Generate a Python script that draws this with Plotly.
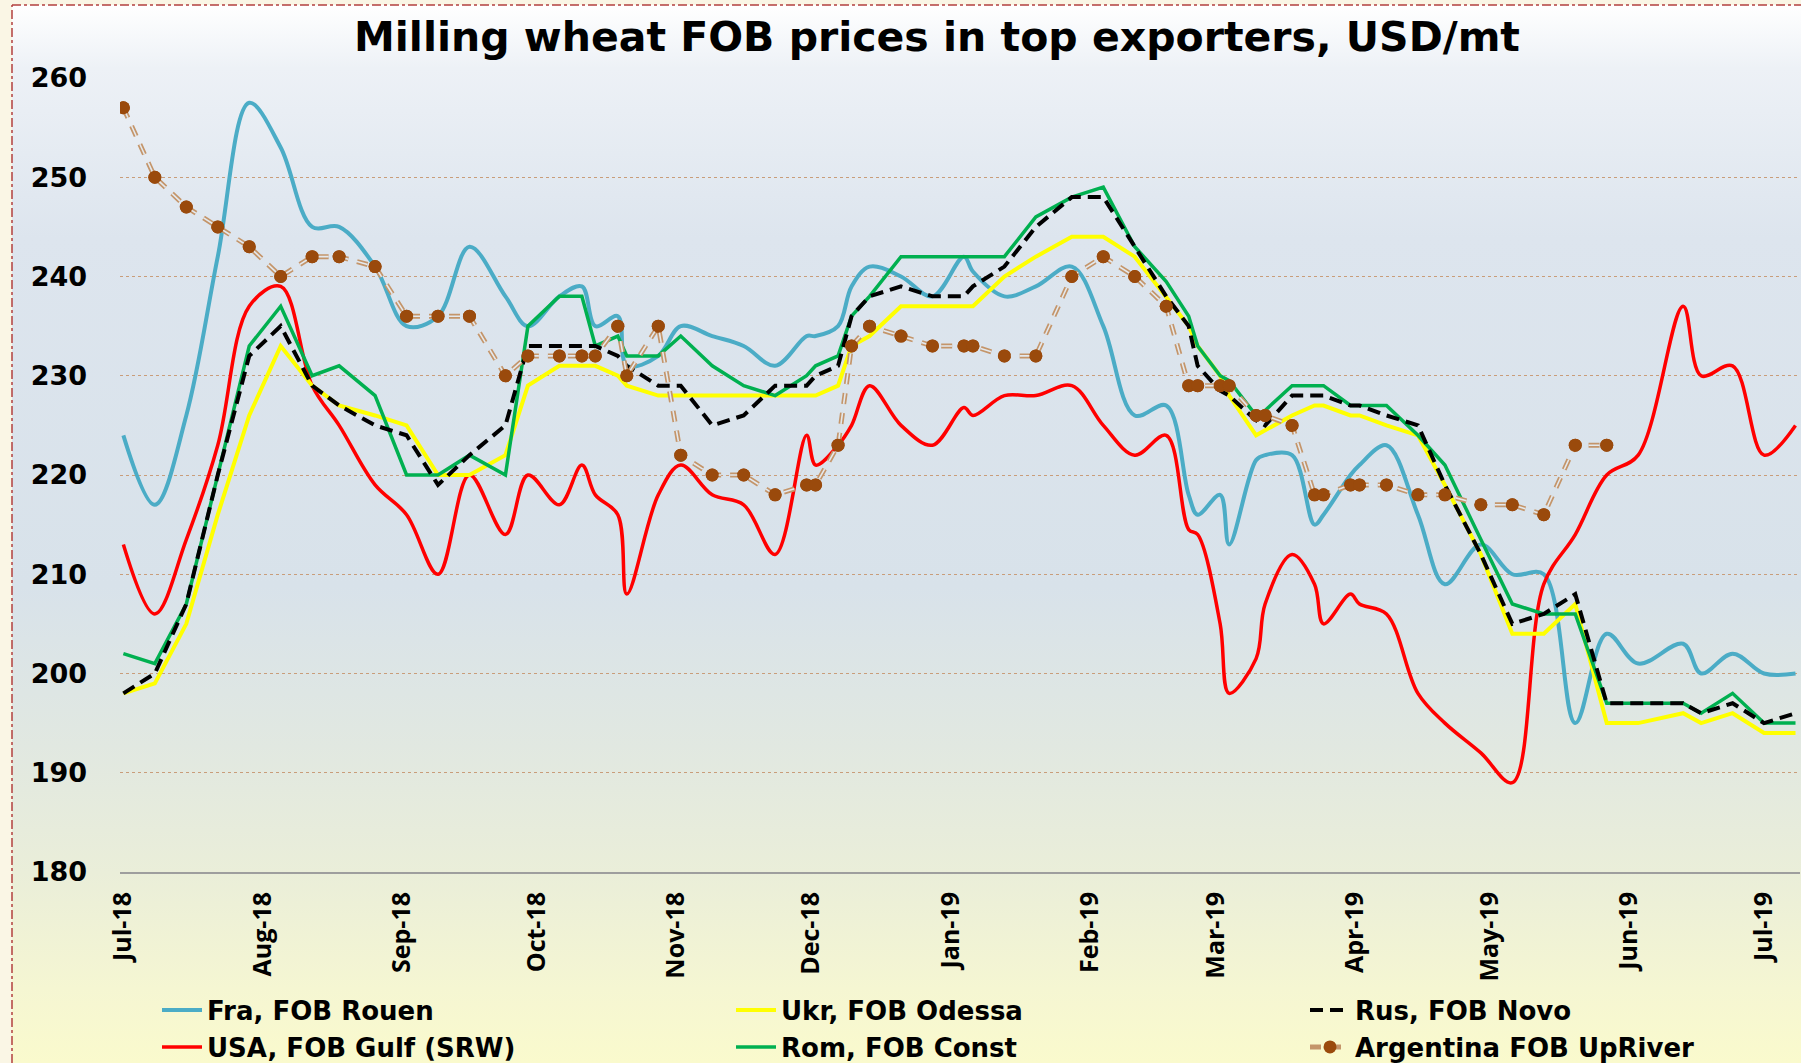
import base64
import plotly.graph_objects as go

# ---------------- data ----------------
dates = ['2018-07-01', '2018-07-08', '2018-07-15', '2018-07-22', '2018-07-29', '2018-08-05',
         '2018-08-12', '2018-08-18', '2018-08-26', '2018-09-02', '2018-09-09', '2018-09-16',
         '2018-09-24', '2018-09-29', '2018-10-06', '2018-10-11', '2018-10-14', '2018-10-19',
         '2018-10-21', '2018-10-28', '2018-11-02', '2018-11-09', '2018-11-16', '2018-11-23',
         '2018-11-30', '2018-12-02', '2018-12-07', '2018-12-10', '2018-12-14', '2018-12-21',
         '2018-12-28', '2019-01-04', '2019-01-06', '2019-01-13', '2019-01-20', '2019-01-28',
         '2019-02-04', '2019-02-11', '2019-02-18', '2019-02-23', '2019-02-25', '2019-03-02',
         '2019-03-04', '2019-03-10', '2019-03-12', '2019-03-18', '2019-03-23', '2019-03-25',
         '2019-03-31', '2019-04-02', '2019-04-08', '2019-04-15', '2019-04-21', '2019-04-29',
         '2019-05-06', '2019-05-13', '2019-05-20', '2019-05-27', '2019-06-03', '2019-06-13',
         '2019-06-17', '2019-06-24', '2019-07-01', '2019-07-08']

fra = [224, 217, 226, 242, 257.5, 253, 245, 245, 241, 235, 236, 243, 238, 235, 238, 239,
       235, 236, 231, 232, 235, 234, 233, 231, 234, 234, 235, 239, 241, 240, 238, 242,
       240.5, 238, 239, 241, 235, 226, 227, 218, 216, 218, 213, 221.5, 222, 222, 215, 216,
       220, 221, 223, 216, 209, 213, 210, 210, 195, 204, 201, 203, 200, 202, 200, 200]

ukr = [198, 199, 205, 216, 226, 233, 229, 227, 226, 225, 220, 220, 222, 229, 231, 231,
       231, 230, 229, 228, 228, 228, 228, 228, 228, 228, 229, 233, 234, 237, 237, 237,
       237, 240, 242, 244, 244, 242, 238, 235, 233, 230, 228, 224, 224.5, 226, 227, 227,
       226, 226, 225, 224, 219, 212, 204, 204, 207, 195, 195, 196, 195, 196, 194, 194]

rus = [198, 200, 207, 220, 232, 235, 229, 227, 225, 224, 219, 222, 225, 233, 233, 233,
       233, 232, 231, 229, 229, 225, 226, 229, 229, 230, 231, 236, 238, 239, 238, 238,
       239, 241, 245, 248, 248, 243, 238, 235, 231, 228.5, 228, 225.5, 225, 228, 228, 228,
       227, 227, 226, 225, 219, 212, 205, 206, 208, 197, 197, 197, 196, 197, 195, 196]

usa = [213, 206, 213.5, 223, 237, 239, 229, 225, 219, 216, 210, 220, 214, 220, 217, 221,
       218, 216, 208, 218, 221, 218, 217, 212, 224, 221, 223, 225, 229, 225, 223, 226.8,
       226, 228, 228, 229, 225, 222, 224, 214.5, 214, 205, 198, 201.5, 207, 212, 209, 205,
       208, 207, 206, 198, 195, 192, 189, 209, 214, 220, 222, 237, 230, 231, 222, 225]

rom = [202, 201, 207, 220, 233, 237, 230, 231, 228, 220, 220, 222, 220, 235, 238, 238,
       233, 234, 232, 232, 234, 231, 229, 228, 230, 231, 232, 236, 238, 242, 242, 242,
       242, 242, 246, 248, 249, 243, 239.5, 236, 233, 230, 229.5, 226, 226.5, 229, 229, 229,
       227, 227, 227, 224, 221, 213.5, 207, 206, 206, 197, 197, 197, 196, 198, 195, 195]

arg = [257, 250, 247, 245, 243, 240, 242, 242, 241, 236, 236, 236, 230, 232, 232, 232,
       232, 235, 230, 235, 222, 220, 220, 218, 219, 219, 223, 233, 235, 234, 233, 233,
       233, 232, 232, 240, 242, 240, 237, 229, 229, 229, 229, 226, 226, 225, 218, 218,
       219, 219, 219, 218, 218, 217, 217, 216, 223, 223, None, None, None, None, None, None]

x_tick_vals = ['2018-07-01', '2018-08-01', '2018-09-01', '2018-10-01', '2018-11-01',
               '2018-12-01', '2019-01-01', '2019-02-01', '2019-03-01', '2019-04-01',
               '2019-05-01', '2019-06-01', '2019-07-01']
x_tick_text = ['Jul-18', 'Aug-18', 'Sep-18', 'Oct-18', 'Nov-18', 'Dec-18', 'Jan-19',
               'Feb-19', 'Mar-19', 'Apr-19', 'May-19', 'Jun-19', 'Jul-19']
y_ticks = [180, 190, 200, 210, 220, 230, 240, 250, 260]

# ---------------- geometry helpers ----------------
W, H = 1801, 1063
ML, MR, MT, MB = 120, 1, 78, 191
PW, PH = W - ML - MR, H - MT - MB


def px(xp):
    return (xp - ML) / PW


def py(yp):
    return (H - MB - yp) / PH


# gradient background (svg data uri)
svg = ("<svg xmlns='http://www.w3.org/2000/svg' width='100' height='100' viewBox='0 0 100 100' "
       "preserveAspectRatio='none'><defs><linearGradient id='g' x1='0' y1='0' x2='0' y2='1'>"
       "<stop offset='0' stop-color='#ffffff'/>"
       "<stop offset='0.06' stop-color='#edf1f6'/>"
       "<stop offset='0.22' stop-color='#dde5ee'/>"
       "<stop offset='0.55' stop-color='#d8e2ea'/>"
       "<stop offset='0.70' stop-color='#e1e8e1'/>"
       "<stop offset='0.82' stop-color='#eaeed9'/>"
       "<stop offset='0.93' stop-color='#f5f6d2'/>"
       "<stop offset='1' stop-color='#fafacd'/>"
       "</linearGradient></defs><rect width='100' height='100' fill='url(#g)'/></svg>")
svg_uri = "data:image/svg+xml;base64," + base64.b64encode(svg.encode()).decode()

fig = go.Figure()

fig.add_trace(go.Scatter(x=dates, y=fra, name='Fra, FOB Rouen', mode='lines',
                         line=dict(color='#4BACC6', width=4, shape='spline', smoothing=1.0),
                         legend='legend'))
fig.add_trace(go.Scatter(x=dates, y=usa, name='USA, FOB Gulf (SRW)', mode='lines',
                         line=dict(color='#FF0000', width=3.5, shape='spline', smoothing=1.0),
                         legend='legend4'))
fig.add_trace(go.Scatter(x=dates, y=ukr, name='Ukr, FOB Odessa', mode='lines',
                         line=dict(color='#FFFF00', width=4),
                         legend='legend2'))
fig.add_trace(go.Scatter(x=dates, y=rom, name='Rom, FOB Const', mode='lines',
                         line=dict(color='#00B050', width=3.5),
                         legend='legend5'))
fig.add_trace(go.Scatter(x=dates, y=rus, name='Rus, FOB Novo', mode='lines',
                         line=dict(color='#000000', width=4, dash='13px,7px'),
                         legend='legend3'))
fig.add_trace(go.Scatter(x=dates, y=arg, name='Argentina FOB UpRiver', mode='lines+markers',
                         line=dict(color='#C4956A', width=5, dash='11px,9px'),
                         marker=dict(color='#9A4A0C', size=13),
                         legend='legend6'))
fig.add_trace(go.Scatter(x=dates, y=arg, mode='lines', showlegend=False, hoverinfo='skip',
                         line=dict(color='#e4e9ee', width=1.6, dash='11px,9px')))
fig.add_trace(go.Scatter(x=dates, y=arg, mode='markers', showlegend=False, hoverinfo='skip',
                         marker=dict(color='#9A4A0C', size=13)))


def leg(xp, yp):
    return dict(orientation='h', itemwidth=40, bgcolor='rgba(0,0,0,0)',
                font=dict(family='DejaVu Sans', size=26, color='#000000', weight='bold'),
                xref='container', yref='container',
                x=xp / W, y=1 - yp / H, xanchor='left', yanchor='middle')


fig.update_layout(
    width=W, height=H, autosize=False,
    margin=dict(l=ML, r=MR, t=MT, b=MB, pad=0),
    paper_bgcolor='#faf6e5', plot_bgcolor='rgba(0,0,0,0)',
    title=dict(text='Milling wheat FOB prices in top exporters, USD/mt',
               font=dict(family='DejaVu Sans', size=41, color='#000000', weight='bold'),
               x=px(937), xref='paper', xanchor='center',
               y=1 - 37 / H, yref='container', yanchor='middle'),
    xaxis=dict(type='date', range=['2018-06-30 06:00', '2019-07-09 00:00'],
               tickvals=x_tick_vals, ticktext=x_tick_text, tickangle=-90,
               tickfont=dict(family='Open Sans', size=25, color='#000000', weight='bold'),
               showgrid=False, zeroline=False, showline=True, linecolor='#9e9e9e', linewidth=2,
               ticks='', ticklabelstandoff=8),
    yaxis=dict(range=[180, 260], tickvals=y_ticks, ticktext=[str(v) for v in y_ticks],
               tickfont=dict(family='DejaVu Sans', size=27, color='#000000', weight='bold'),
               showgrid=True, gridcolor='#c99d7a', gridwidth=1.2, griddash='dot',
               zeroline=False, showline=False, ticks='', ticklabelstandoff=32),
    legend=leg(157, 1010),
    legend2=leg(731, 1010),
    legend3=leg(1305, 1010),
    legend4=leg(157, 1047),
    legend5=leg(731, 1047),
    legend6=leg(1305, 1047),
    images=[dict(source=svg_uri, xref='paper', yref='paper', x=px(12), y=py(5),
                 sizex=(W - 12) / PW, sizey=(H - 5) / PH, xanchor='left', yanchor='top',
                 sizing='stretch', layer='below')],
    shapes=[
        dict(type='line', xref='paper', yref='paper', x0=px(12), x1=px(12), y0=py(H), y1=py(5),
             line=dict(color='#b3403f', width=1.5, dash='dashdot')),
        dict(type='line', xref='paper', yref='paper', x0=px(12), x1=px(W), y0=py(5), y1=py(5),
             line=dict(color='#b3403f', width=1.5, dash='dashdot')),
    ],
    showlegend=True,
)

fig.write_html('out.html', config={'displayModeBar': False},
               post_script="document.body.style.margin='0';document.body.style.overflow='hidden';")
